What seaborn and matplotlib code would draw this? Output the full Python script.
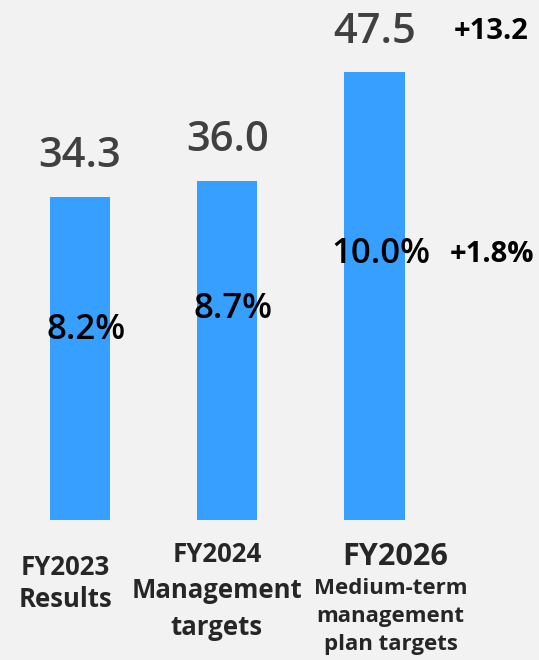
import matplotlib
matplotlib.use('Agg')
import matplotlib.pyplot as plt
import seaborn as sns
import pandas as pd

# data
categories = ['FY2023', 'FY2024', 'FY2026']
profit = [34.3, 36.0, 47.5]
margin = [8.2, 8.7, 10.0]
profit_label = ['34.3', '36.0', '47.5']
margin_label = ['8.2%', '8.7%', '10.0%']
sub_labels = ['Results', 'Management\ntargets', 'Medium-term\nmanagement\nplan targets']
profit_diff = '+13.2'
margin_diff = '+1.8%'

sns.set_style('white')
plt.rcParams['font.family'] = ['Open Sans', 'DejaVu Sans']

df = pd.DataFrame({'cat': categories, 'profit': profit, 'margin': margin})

fig = plt.figure(figsize=(5.39, 6.60), dpi=100, facecolor='#f2f2f2')
ax = fig.add_axes([0, 140 / 660, 1, 520 / 660])
ax.set_facecolor('#f2f2f2')

sns.barplot(data=df, x='cat', y='profit', color='#369fff', width=0.41,
            saturation=1, linewidth=0, ax=ax)
ax.set_xlim(-0.543, 3.117)
ax.set_ylim(0, 55.14)

# operating profit values above bars
for i, v in enumerate(profit):
    ax.annotate(profit_label[i], (i, v), xytext=(0, 14), textcoords='offset points',
                ha='center', va='bottom', fontsize=30, fontweight='semibold', color='#404040')
ax.text(2.79, 51.8, profit_diff, ha='center', va='center', fontsize=21,
        fontweight='bold', color='black')

# margin on second axis
ax2 = ax.twinx()
ax2.set_ylim(3.70, 16.02)
for i, m in enumerate(margin):
    ax2.text(i + 0.04, m, margin_label[i], ha='center', va='center', fontsize=25,
             fontweight='semibold', color='black')
ax2.text(2.80, margin[-1], margin_diff, ha='center', va='center', fontsize=21,
         fontweight='bold', color='black')

for a in (ax, ax2):
    a.set_xticks([])
    a.set_yticks([])
    a.set_xlabel('')
    a.set_ylabel('')
    for s in a.spines.values():
        s.set_visible(False)

# category labels under bars
tr = ax.get_xaxis_transform()
ax.text(-0.1, -34 / 520, 'FY2023\n' + sub_labels[0], transform=tr, ha='center', va='top',
        fontsize=18.5, fontweight='bold', linespacing=1.25, clip_on=False)
ax.text(-0.07 + 1, -21 / 520, 'FY2024\n' + sub_labels[1], transform=tr, ha='center', va='top',
        fontsize=18.5, fontweight='bold', linespacing=1.45, clip_on=False)
ax.text(2.14, -22 / 520, 'FY2026', transform=tr, ha='center', va='top',
        fontsize=22, fontweight='bold', clip_on=False)
ax.text(2.11, -58 / 520, sub_labels[2], transform=tr, ha='center', va='top',
        fontsize=16, fontweight='bold', linespacing=1.45, clip_on=False)

fig.savefig('out.png', dpi=100, facecolor=fig.get_facecolor())
